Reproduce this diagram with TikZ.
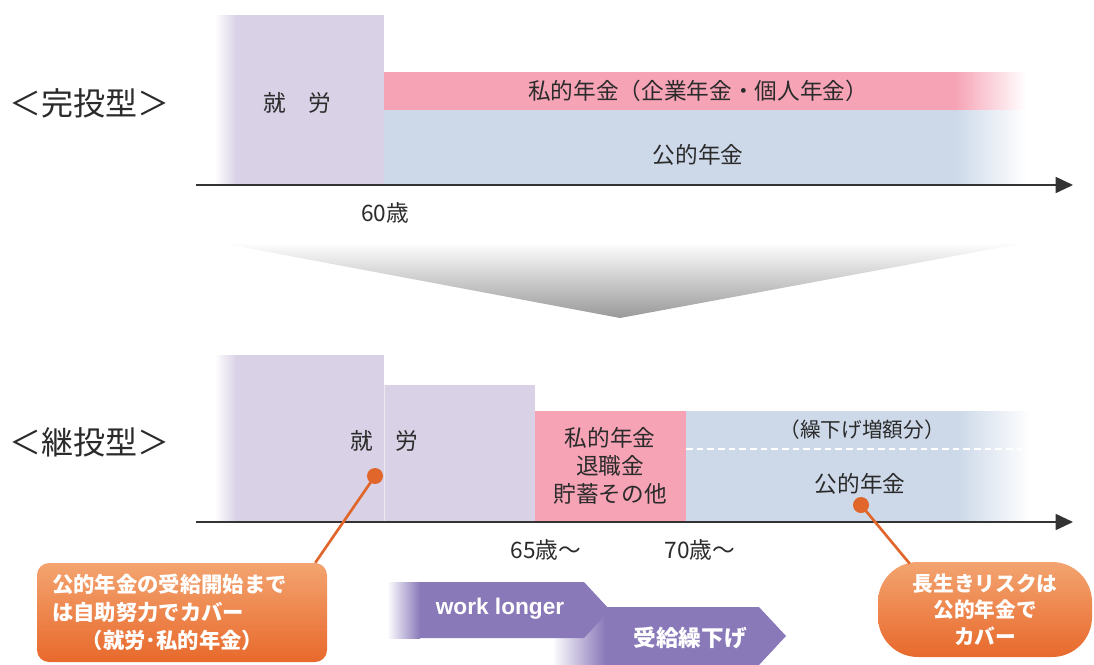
\documentclass[tikz,border=0pt]{standalone}
\usepackage{fontspec}
\setmainfont{Noto Sans CJK JP}
\newfontfamily\latinb{Liberation Sans}
\usetikzlibrary{arrows.meta,calc}
\definecolor{lav}{HTML}{D9D1E6}
\definecolor{pinkc}{HTML}{F6A3B6}
\definecolor{bluec}{HTML}{CDD9E9}
\definecolor{txtc}{HTML}{2B2B2B}
\definecolor{axisc}{HTML}{333333}
\definecolor{orline}{HTML}{E0662B}
\definecolor{orA}{HTML}{F3A470}
\definecolor{orB}{HTML}{E8692C}
\definecolor{purp}{HTML}{8A79B9}
\tikzset{
  lbl/.style={font=\fontsize{17}{21}\selectfont, text=txtc, inner sep=0pt, align=center},
  smalllbl/.style={font=\fontsize{15.5}{19}\selectfont, text=txtc, inner sep=0pt},
  titlelbl/.style={font=\fontsize{24}{28}\selectfont, text=txtc, inner sep=0pt},
  axisline/.style={draw=axisc, line width=1.3pt, -{Triangle[length=13pt,width=12pt]}},
  dot/.style={circle, fill=orline, minimum size=12pt, inner sep=0pt},
  leader/.style={draw=orline, line width=2pt},
  callout/.style={top color=orA, bottom color=orB, text=white, inner sep=0pt},
  arrowtxt/.style={text=white, inner sep=0pt},
}
\begin{document}
\begin{tikzpicture}[x=0.75pt,y=-0.75pt]
\useasboundingbox (0,0) rectangle (1094,664);

% ---------- top: 完投型 ----------
\node[titlelbl] (t1) at (89,103) {＜完投型＞};
\fill[lav] (215,15) rectangle (384,185);
\shade[left color=white, right color=lav] (215,15) rectangle (236,185);
\node[lbl] (w1) at (297,103) {就\quad 労};
\fill[pinkc] (384,72) rectangle (955,110);
\shade[left color=pinkc, right color=white] (955,72) rectangle (1026,110);
\fill[bluec] (384,110) rectangle (955,185);
\shade[left color=bluec, right color=white] (955,110) rectangle (1026,185);
\node[lbl] (p1) at (698,91) {私的年金（企業年金・個人年金）};
\node[lbl] (k1) at (698,155) {公的年金};
\coordinate (a1s) at (196,185);
\coordinate (a1e) at (1073,185);
\draw[axisline] (a1s) -- (a1e);
\node[lbl] (age60) at (385,213) {60歳};

% ---------- funnel ----------
\shade[top color=white, middle color=black!9, bottom color=black!40] (215,242) -- (1030,242) -- (620,318) -- cycle;

% ---------- bottom: 継投型 ----------
\node[titlelbl] (t2) at (89,442) {＜継投型＞};
\fill[lav] (215,355) rectangle (384,522);
\shade[left color=white, right color=lav] (215,355) rectangle (236,522);
\fill[lav] (384,385) rectangle (535,522);
\draw[white, opacity=0.5, line width=0.6pt] (384,385) -- (384,522);
\fill[pinkc] (535,411) rectangle (686,522);
\fill[bluec] (686,411) rectangle (958,522);
\shade[left color=bluec, right color=white] (958,411) rectangle (1030,522);
\draw[white, line width=1.2pt, dash pattern=on 5pt off 3pt] (686,449) -- (1022,449);
\node[lbl] (w2) at (384,441) {就\quad 労};
\node[lbl] (p2) at (610,466) {私的年金\\退職金\\貯蓄その他};
\node[smalllbl] (inc) at (862,430) {（繰下げ増額分）};
\node[lbl] (k2) at (860,484) {公的年金};
\coordinate (a2s) at (196,522);
\coordinate (a2e) at (1073,522);
\draw[axisline] (a2s) -- (a2e);
\node[lbl] (age65) at (546,550) {65歳～};
\node[lbl] (age70) at (700,550) {70歳～};

% ---------- arrows ----------
\fill[purp] (553,607) -- (759,607) -- (786,636) -- (759,665) -- (553,665) -- cycle;
\shade[left color=white, right color=purp] (552,607) rectangle (605,665);
\fill[purp] (388,582) -- (584,582) -- (610,610) -- (584,638) -- (388,638) -- cycle;
\shade[left color=white, right color=purp] (387,582) rectangle (420,638);
\node[arrowtxt, font=\latinb\bfseries\fontsize{17}{20}\selectfont] (wl) at (500,609) {work longer};
\node[arrowtxt, font=\bfseries\fontsize{17}{20}\selectfont] (ju) at (690,638) {受給繰下げ};

% ---------- callouts ----------
\node[callout, rounded corners=9pt, minimum width=217.5pt, minimum height=74.25pt,
      text width=195pt, align=left, font=\bfseries\fontsize{16}{21}\selectfont] (co1) at (182,612.5)
  {公的年金の受給開始まで\\は自助努力でカバー\\\hspace*{1.4em}（就労･私的年金）};
\node[callout, rounded corners=30pt, minimum width=160.5pt, minimum height=71.25pt,
      align=center, font=\bfseries\fontsize{15.5}{20}\selectfont] (co2) at (985,609.5)
  {長生きリスクは\\公的年金で\\カバー};
\coordinate (d1c) at (375,476);
\coordinate (d2c) at (861,505);
\draw[leader] (d1c) -- ($(co1.north east)+(-12,0)$);
\draw[leader] (d2c) -- ($(co2.north west)+(32,2)$);
\node[dot] (d1) at (d1c) {};
\node[dot] (d2) at (d2c) {};
\end{tikzpicture}
\end{document}
